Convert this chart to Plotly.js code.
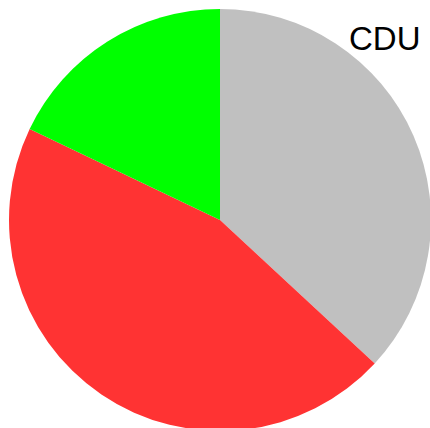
<!DOCTYPE html>
<html>
<head>
<meta charset="utf-8">
<script src="https://cdn.plot.ly/plotly-3.0.1.min.js"></script>
<style>
html,body{margin:0;padding:0;overflow:hidden;background:#fff;}
#chart{width:440px;height:440px;}
</style>
</head>
<body>
<div id="chart"></div>
<script>
const labels = ["Gray", "Red", "Green"];
const values = [36.9, 45.2, 17.9];
const colors = ["#C0C0C0", "#FF3333", "#00FF00"];
const labelText = "CDU";

const W = 440, H = 440;
const cx = 220, cy = 220, r = 211;

Plotly.newPlot("chart", [{
  type: "pie",
  labels: labels,
  values: values,
  sort: false,
  direction: "clockwise",
  rotation: 0,
  textinfo: "none",
  hoverinfo: "none",
  marker: {colors: colors, line: {width: 0}},
  domain: {x: [(cx - r) / W, (cx + r) / W], y: [1 - (cy + r) / H, 1 - (cy - r) / H]}
}], {
  width: W, height: H,
  margin: {l: 0, r: 0, t: 0, b: 0, pad: 0},
  showlegend: false,
  paper_bgcolor: "#fff",
  annotations: [{
    text: labelText,
    xref: "paper", yref: "paper",
    x: 347 / W, y: 1 - 38 / H,
    xanchor: "left", yanchor: "middle",
    showarrow: false,
    font: {family: "Liberation Sans, Arial, sans-serif", size: 33, color: "#000"}
  }]
}, {staticPlot: true, displayModeBar: false});
</script>
</body>
</html>
